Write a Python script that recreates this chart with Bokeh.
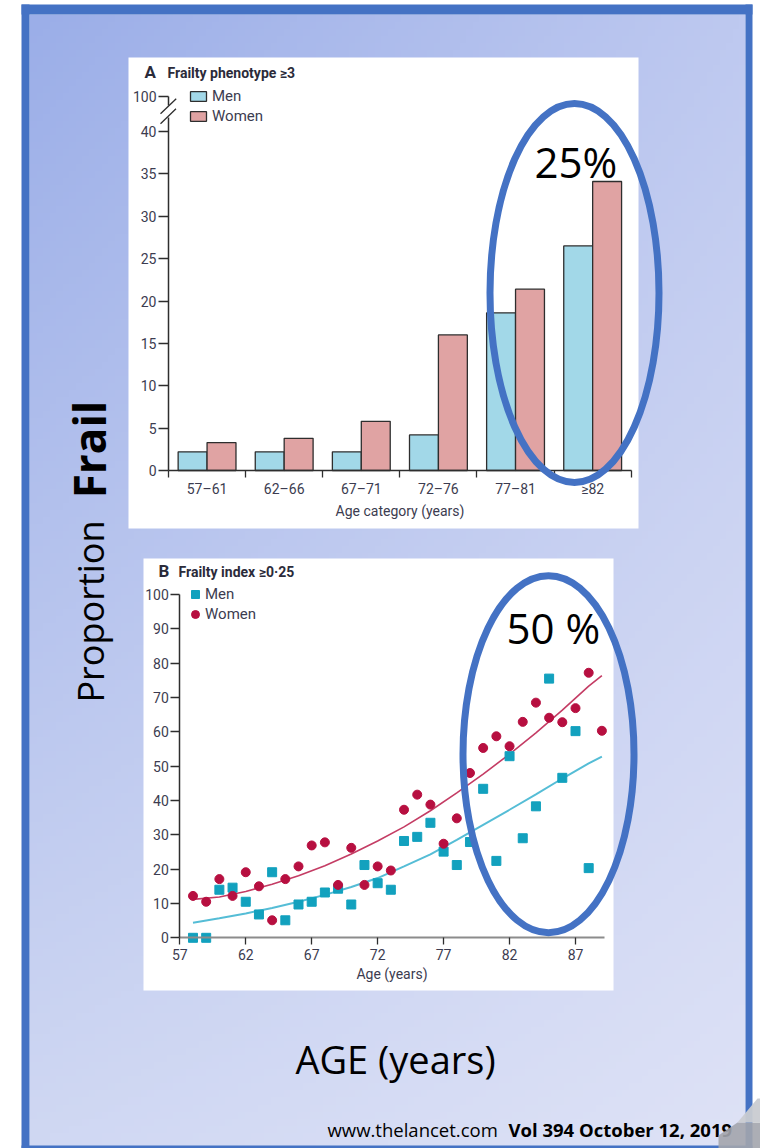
import numpy as np
from bokeh.plotting import figure
from bokeh.models import Range1d, LinearAxis, FixedTicker, Label, Legend, LegendItem
from bokeh.embed import file_html
from bokeh.resources import INLINE

# ---------------- data ----------------
age_cats = ["57–61", "62–66", "67–71", "72–76", "77–81", "≥82"]
men_phenotype = [2.2, 2.2, 2.2, 4.2, 18.6, 26.5]
women_phenotype = [3.3, 3.8, 5.8, 16.0, 21.4, 34.1]
pheno_yticks = [0, 5, 10, 15, 20, 25, 30, 35, 40]
pheno_break_tick = [100]

men_ages = [58, 59, 60, 61, 62, 63, 64, 65, 66, 67, 68, 69, 70, 71, 72, 73,
            74, 75, 76, 77, 78, 79, 80, 81, 82, 83, 84, 85, 86, 87, 88]
men_index = [0, 0, 14.0, 14.6, 10.5, 6.8, 19.1, 5.1, 9.7, 10.5, 13.2, 14.3,
             9.7, 21.2, 15.9, 14.0, 28.2, 29.4, 33.5, 25.1, 21.2, 27.9,
             43.4, 22.4, 52.9, 29.0, 38.3, 75.5, 46.6, 60.2, 20.3]
women_ages = [58, 59, 60, 61, 62, 63, 64, 65, 66, 67, 68, 69, 70, 71, 72, 73,
              74, 75, 76, 77, 78, 79, 80, 81, 82, 83, 84, 85, 86, 87, 88, 89]
women_index = [12.2, 10.5, 17.1, 12.2, 19.1, 15.0, 5.1, 17.1, 20.8, 26.9,
               27.8, 15.4, 26.2, 15.4, 20.8, 19.6, 37.3, 41.7, 38.8, 27.4,
               34.8, 48.0, 55.3, 58.7, 55.8, 62.9, 68.5, 64.1, 62.8, 66.9,
               77.2, 60.3]
fit_ages = [58, 60, 62, 64, 66, 68, 70, 72, 74, 76, 78, 80, 82, 84, 86, 88, 89]
men_fit = [4.4, 5.7, 7.1, 8.7, 10.5, 12.5, 14.8, 17.4, 20.8, 24.3, 28.5,
           32.9, 37.3, 41.8, 46.4, 50.8, 52.8]
women_fit = [11.2, 11.9, 13.5, 15.6, 18.1, 21.0, 24.4, 28.2, 32.3, 37.0,
             42.2, 47.7, 53.5, 59.7, 66.3, 73.3, 76.4]
index_xticks = [57, 62, 67, 72, 77, 82, 87]
index_yticks = [0, 10, 20, 30, 40, 50, 60, 70, 80, 90, 100]

# ---------------- styles ----------------
CH_FONT = "Roboto"
SL_FONT = "Open Sans"
TICK_COL = "#3c3c50"
AX_COL = "#2e2e2e"
BORDER = "#4472c4"
MEN_BAR, WOMEN_BAR = "#a2d8e8", "#e0a3a3"
MEN_PT, WOMEN_PT = "#12a1be", "#b70f40"
MEN_LINE, WOMEN_LINE = "#55bdd6", "#c43c64"

W, H = 760, 1148


def span(v0, p0, v1, p1, pa, pb):
    k = (v1 - v0) / (p1 - p0)
    return Range1d(start=v0 + (pa - p0) * k, end=v0 + (pb - p0) * k)


p = figure(width=W, height=H, x_range=Range1d(0, W), y_range=Range1d(H, 0),
           output_backend="svg", toolbar_location=None,
           x_axis_location=None, y_axis_location=None,
           min_border=0, outline_line_color=None,
           background_fill_color="white", border_fill_color="white")
p.xgrid.visible = False
p.ygrid.visible = False

# chart ranges placed on the slide
p.extra_x_ranges = {
    "ax": span(0, 206.56, 5, 592.16, 0, W),
    "bx": span(57, 179.3, 87, 575.0, 0, W),
}
p.extra_y_ranges = {
    "ay": span(0, 470.0, 40, 131.0, H, 0),
    "ay2": span(100, 95.7, 60, 434.7, H, 0),
    "by": span(0, 937.3, 100, 594.0, H, 0),
    "gy": Range1d(start=-H, end=0),
}


def text(x, y, s, size, font=SL_FONT, bold=False, color="black", align="left"):
    # y is the wanted baseline on the page
    p.add_layout(Label(x=x, y=y - 0.38 * size, text=s, text_font=font,
                       text_font_size=f"{size}px",
                       text_font_style="bold" if bold else "normal",
                       text_color=color, text_align=align,
                       text_baseline="alphabetic"))


# ---------------- slide background ----------------
ny, nx = 160, 110
u = np.linspace(0, 1, nx)[None, :, None]
v = np.linspace(1, 0, ny)[:, None, None]  # row 0 = bottom
tl = np.array([155, 174, 232]); tr = np.array([190, 201, 240])
bl = np.array([208, 216, 243]); br = np.array([222, 226, 246])
col = (1 - u) * (1 - v) * tl + u * (1 - v) * tr + (1 - u) * v * bl + u * v * br
img = np.empty((ny, nx), dtype=np.uint32)
view = img.view(dtype=np.uint8).reshape((ny, nx, 4))
view[..., :3] = col.astype(np.uint8)
view[..., 3] = 255
p.image_rgba(image=[img], x=29, y=-1146, dw=716, dh=1132, y_range_name="gy")

# border
p.quad(left=[21, 745, 21, 21], right=[29, 752, 752, 752],
       top=[4, 4, 4, 1145], bottom=[1148, 1148, 14, 1148],
       fill_color=BORDER, line_color=None)

# white chart panels
p.quad(left=[128, 143], right=[638, 613], top=[57, 558], bottom=[528, 990],
       fill_color="white", line_color=None)

# ---------------- chart A : bars ----------------
idx = np.arange(len(age_cats))
men_bars = p.vbar(x=idx - 0.1875, width=0.375, top=men_phenotype, bottom=0,
                  x_range_name="ax", y_range_name="ay",
                  fill_color=MEN_BAR, line_color=AX_COL, line_width=1.3)
women_bars = p.vbar(x=idx + 0.1875, width=0.375, top=women_phenotype, bottom=0,
                    x_range_name="ax", y_range_name="ay",
                    fill_color=WOMEN_BAR, line_color=AX_COL, line_width=1.3)


def style(ax, tick_out, standoff):
    ax.major_label_text_font = CH_FONT
    ax.major_label_text_font_size = "14px"
    ax.major_label_text_color = TICK_COL
    ax.axis_line_color = AX_COL
    ax.axis_line_width = 1.5
    ax.major_tick_line_color = AX_COL
    ax.major_tick_line_width = 1.3
    ax.minor_tick_line_color = AX_COL
    ax.minor_tick_line_width = 1.3
    ax.major_tick_in = 0
    ax.major_tick_out = tick_out
    ax.minor_tick_in = 0
    ax.minor_tick_out = 0
    ax.major_label_standoff = standoff
    ax.axis_label_text_font = CH_FONT
    ax.axis_label_text_font_size = "14px"
    ax.axis_label_text_font_style = "normal"
    ax.axis_label_text_color = TICK_COL


ax_ax = LinearAxis(x_range_name="ax", y_range_name="ay", fixed_location=0,
                   bounds=(-0.5, len(age_cats) - 0.5),
                   ticker=FixedTicker(ticks=list(range(len(age_cats))),
                                      minor_ticks=[i - 0.5 for i in range(len(age_cats) + 1)]),
                   major_label_overrides={i: c for i, c in enumerate(age_cats)},
                   axis_label="Age category (years)")
style(ax_ax, 0, 3)
ax_ax.minor_tick_out = 7
ax_ax.axis_label_standoff = 3
p.add_layout(ax_ax, "below")

ay_ax = LinearAxis(x_range_name="ax", y_range_name="ay", fixed_location=-0.5,
                   bounds=(0, 41.6), ticker=FixedTicker(ticks=pheno_yticks))
style(ay_ax, 10, 2)
p.add_layout(ay_ax, "left")

ay2_ax = LinearAxis(x_range_name="ax", y_range_name="ay2", fixed_location=-0.5,
                    bounds=(98.9, 100), ticker=FixedTicker(ticks=pheno_break_tick))
style(ay2_ax, 10, 2)
p.add_layout(ay2_ax, "left")

# axis break marks
p.segment(x0=[160, 160], y0=[113.3, 123.3], x1=[175.7, 175.5], y1=[98.3, 108.3],
          line_color=AX_COL, line_width=1.3)

legend_a = Legend(items=[LegendItem(label="Men", renderers=[men_bars]),
                         LegendItem(label="Women", renderers=[women_bars])],
                  location=(188, 1022), glyph_width=20, glyph_height=12,
                  label_standoff=4, spacing=0, padding=0, margin=0,
                  label_height=20, label_text_font=CH_FONT,
                  label_text_font_size="15px", label_text_color=TICK_COL,
                  background_fill_alpha=0, border_line_alpha=0)
p.add_layout(legend_a)

text(144, 78, "A", 17, font=CH_FONT, bold=True, color="#2b2b3a")
text(167, 78, "Frailty phenotype ≥3", 14, font=CH_FONT, bold=True, color="#2b2b3a")

# ---------------- chart B : scatter ----------------
p.line(fit_ages, men_fit, x_range_name="bx", y_range_name="by",
       line_color=MEN_LINE, line_width=2)
p.line(fit_ages, women_fit, x_range_name="bx", y_range_name="by",
       line_color=WOMEN_LINE, line_width=1.6)
men_pts = p.scatter(men_ages, men_index, marker="square", size=9,
                    x_range_name="bx", y_range_name="by",
                    fill_color=MEN_PT, line_color=MEN_PT)
women_pts = p.scatter(women_ages, women_index, marker="circle", size=9,
                      x_range_name="bx", y_range_name="by",
                      fill_color=WOMEN_PT, line_color=WOMEN_PT)

bx_ax = LinearAxis(x_range_name="bx", y_range_name="by", fixed_location=0,
                   bounds=(57, 89.2), ticker=FixedTicker(ticks=index_xticks),
                   axis_label="Age (years)")
style(bx_ax, 7, 4)
bx_ax.axis_line_color = "#8c8c8c"
bx_ax.axis_line_width = 2
bx_ax.axis_label_standoff = 3
p.add_layout(bx_ax, "below")

by_ax = LinearAxis(x_range_name="bx", y_range_name="by", fixed_location=57,
                   bounds=(0, 100), ticker=FixedTicker(ticks=index_yticks))
style(by_ax, 9, 2)
p.add_layout(by_ax, "left")

legend_b = Legend(items=[LegendItem(label="Men", renderers=[men_pts]),
                         LegendItem(label="Women", renderers=[women_pts])],
                  location=(185, 524), glyph_width=20, glyph_height=20,
                  label_standoff=-2, spacing=0, padding=0, margin=0,
                  label_height=20, label_text_font=CH_FONT,
                  label_text_font_size="15px", label_text_color=TICK_COL,
                  background_fill_alpha=0, border_line_alpha=0)
p.add_layout(legend_b)

text(158, 577, "B", 17, font=CH_FONT, bold=True, color="#2b2b3a")
text(178, 577, "Frailty index ≥0·25", 14, font=CH_FONT, bold=True, color="#2b2b3a")

# ---------------- slide overlays ----------------
p.ellipse(x=[574, 548], y=[292.5, 753.7], width=[169, 171], height=[379, 357],
          fill_color=None, line_color=BORDER, line_width=7, level="overlay")

text(534, 177, "25%", 42)
text(506, 643, "50 %", 42)

p.add_layout(Label(x=90, y=611, text="Proportion", angle=np.pi / 2, text_font=SL_FONT,
                   text_font_size="36px", text_color="black", text_align="center",
                   text_baseline="middle"))
p.add_layout(Label(x=88, y=449, text="Frail", angle=np.pi / 2, text_font=SL_FONT,
                   text_font_size="44px", text_font_style="bold", text_color="black",
                   text_align="center", text_baseline="middle"))

text(395, 1073, "AGE (years)", 38, align="center")
text(327, 1136, "www.thelancet.com", 18.5)
text(508, 1136, "Vol 394 October 12, 2019", 18.5, bold=True)

# page curl in the bottom-right corner
p.patch([718, 718, 737, 760, 760], [1148, 1135, 1122, 1122, 1148],
        fill_color="#a3a5ad", fill_alpha=0.9, line_color=None, level="overlay")
p.patch([737, 757, 760, 760], [1122, 1098, 1098, 1122],
        fill_color="#c9cbd1", fill_alpha=0.95, line_color=None, level="overlay")

p.toolbar.logo = None

open("out.html", "w").write(file_html(p, INLINE))
